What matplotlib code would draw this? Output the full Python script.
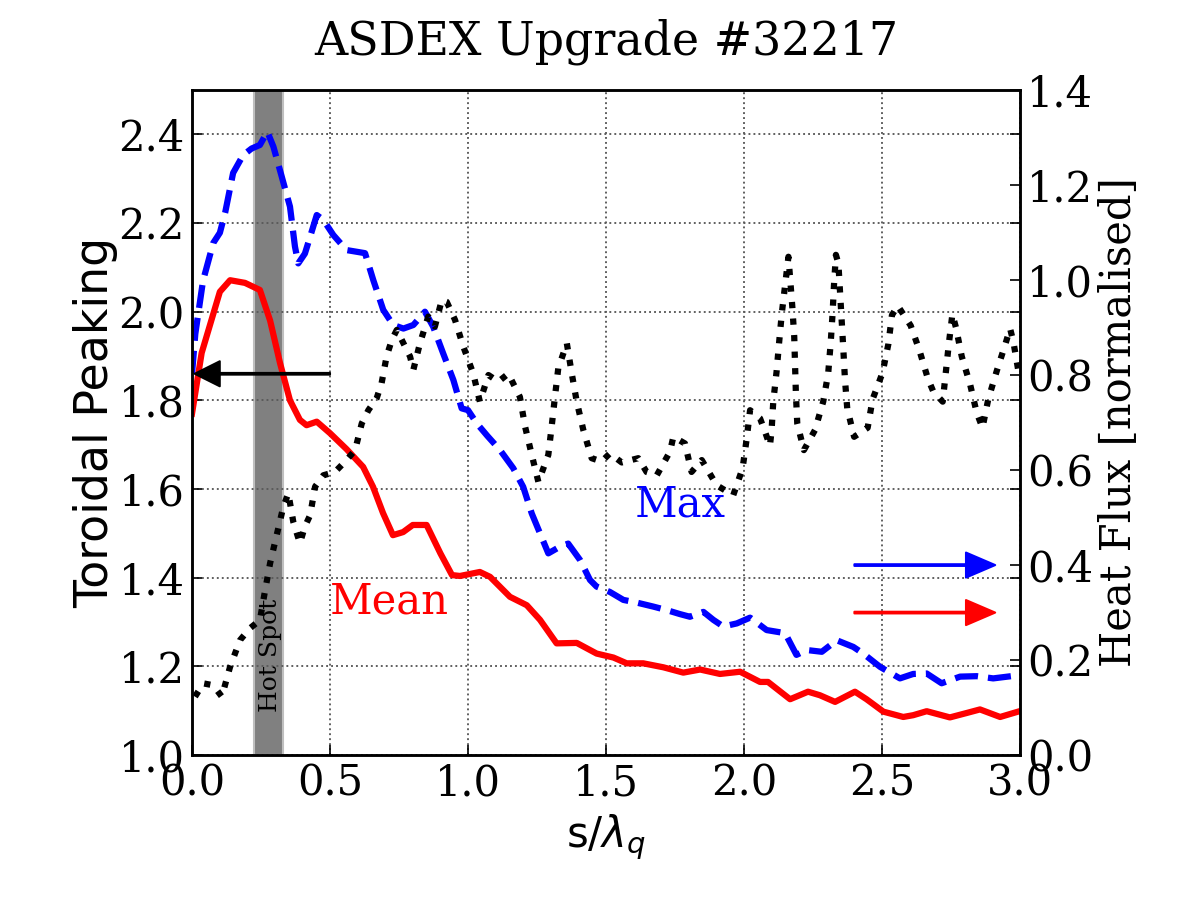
import matplotlib
matplotlib.use("Agg")
import matplotlib.pyplot as plt

# Mean toroidal peaking (left axis)
mean_s = [0.0, 0.035, 0.101, 0.138, 0.192, 0.246, 0.283, 0.319, 0.355, 0.391,
          0.415, 0.452, 0.5, 0.56, 0.62, 0.656, 0.692, 0.728, 0.765, 0.80,
          0.85, 0.90, 0.942, 0.971, 1.043, 1.08, 1.152, 1.213, 1.261, 1.321,
          1.394, 1.466, 1.527, 1.575, 1.635, 1.708, 1.78, 1.841, 1.913, 1.986,
          2.058, 2.087, 2.167, 2.232, 2.275, 2.33, 2.402, 2.444, 2.505, 2.577,
          2.613, 2.662, 2.746, 2.807, 2.855, 2.928, 2.993]
mean_peak = [1.77, 1.907, 2.045, 2.071, 2.065, 2.049, 1.98, 1.884, 1.80, 1.756,
             1.744, 1.752, 1.726, 1.69, 1.65, 1.605, 1.546, 1.496, 1.503, 1.519,
             1.519, 1.455, 1.406, 1.404, 1.413, 1.402, 1.357, 1.338, 1.305, 1.252,
             1.253, 1.229, 1.22, 1.207, 1.207, 1.198, 1.186, 1.193, 1.183, 1.188,
             1.165, 1.165, 1.126, 1.143, 1.135, 1.12, 1.143, 1.126, 1.098, 1.086,
             1.09, 1.099, 1.085, 1.095, 1.103, 1.086, 1.098]

# Max toroidal peaking (left axis)
max_s = [0.0, 0.012, 0.04, 0.077, 0.101, 0.12, 0.149, 0.185, 0.216, 0.246,
         0.273, 0.295, 0.325, 0.355, 0.373, 0.385, 0.409, 0.428, 0.452, 0.476,
         0.512, 0.56, 0.627, 0.657, 0.693, 0.729, 0.766, 0.802, 0.844, 0.874,
         0.91, 0.947, 0.977, 1.0, 1.032, 1.07, 1.116, 1.164, 1.2, 1.231,
         1.261, 1.291, 1.333, 1.363, 1.406, 1.442, 1.466, 1.514, 1.563, 1.611,
         1.671, 1.72, 1.768, 1.804, 1.853, 1.889, 1.925, 1.974, 2.022, 2.082,
         2.149, 2.19, 2.227, 2.282, 2.336, 2.396, 2.432, 2.493, 2.565, 2.613,
         2.662, 2.716, 2.783, 2.843, 2.903, 2.994]
max_peak = [1.86, 1.95, 2.07, 2.155, 2.178, 2.223, 2.313, 2.353, 2.368, 2.376,
            2.406, 2.372, 2.305, 2.237, 2.147, 2.109, 2.131, 2.169, 2.218, 2.207,
            2.173, 2.139, 2.132, 2.071, 2.004, 1.97, 1.962, 1.97, 2.0, 1.966,
            1.906, 1.846, 1.782, 1.778, 1.748, 1.72, 1.688, 1.647, 1.605, 1.545,
            1.5, 1.455, 1.47, 1.477, 1.44, 1.395, 1.38, 1.368, 1.35, 1.344,
            1.335, 1.327, 1.318, 1.312, 1.323, 1.305, 1.29, 1.297, 1.31, 1.282,
            1.275, 1.226, 1.237, 1.233, 1.259, 1.244, 1.229, 1.199, 1.173, 1.183,
            1.184, 1.162, 1.177, 1.178, 1.173, 1.18]

# Normalised heat flux profile (right axis)
flux_s = [0.011, 0.041, 0.077, 0.108, 0.138, 0.174, 0.21, 0.246, 0.264, 0.283,
          0.307, 0.331, 0.349, 0.367, 0.391, 0.409, 0.428, 0.446, 0.476, 0.518,
          0.56, 0.591, 0.615, 0.639, 0.669, 0.687, 0.705, 0.724, 0.742, 0.766,
          0.79, 0.802, 0.826, 0.856, 0.88, 0.905, 0.923, 0.953, 0.983, 1.019,
          1.043, 1.074, 1.11, 1.146, 1.188, 1.207, 1.231, 1.255, 1.291, 1.303,
          1.315, 1.327, 1.358, 1.376, 1.394, 1.418, 1.448, 1.484, 1.514, 1.557,
          1.617, 1.647, 1.684, 1.732, 1.744, 1.786, 1.81, 1.847, 1.901, 1.961,
          1.995, 2.01, 2.022, 2.058, 2.076, 2.094, 2.1, 2.106, 2.118, 2.127,
          2.137, 2.149, 2.161, 2.167, 2.175, 2.182, 2.185, 2.188, 2.193, 2.217,
          2.257, 2.287, 2.305, 2.314, 2.321, 2.326, 2.333, 2.342, 2.348, 2.354,
          2.36, 2.366, 2.374, 2.399, 2.448, 2.466, 2.502, 2.523, 2.536, 2.557,
          2.604, 2.635, 2.666, 2.686, 2.72, 2.731, 2.742, 2.755, 2.768, 2.789,
          2.819, 2.843, 2.864, 2.885, 2.916, 2.948, 2.964, 2.976, 2.994]
flux = [0.123, 0.151, 0.147, 0.123, 0.186, 0.242, 0.267, 0.284, 0.344, 0.404,
        0.463, 0.523, 0.551, 0.491, 0.446, 0.481, 0.505, 0.565, 0.589, 0.596,
        0.621, 0.642, 0.698, 0.726, 0.751, 0.783, 0.839, 0.874, 0.895, 0.867,
        0.839, 0.811, 0.867, 0.923, 0.902, 0.958, 0.954, 0.916, 0.86, 0.803,
        0.744, 0.8, 0.786, 0.803, 0.754, 0.691, 0.632, 0.575, 0.632, 0.691,
        0.754, 0.814, 0.867, 0.803, 0.744, 0.684, 0.625, 0.618, 0.635, 0.616,
        0.625, 0.596, 0.589, 0.639, 0.67, 0.656, 0.596, 0.621, 0.568, 0.547,
        0.604, 0.667, 0.726, 0.709, 0.681, 0.651, 0.684, 0.744, 0.807, 0.867,
        0.93, 0.989, 1.049, 1.004, 0.944, 0.881, 0.821, 0.761, 0.698, 0.642,
        0.684, 0.744, 0.803, 0.867, 0.93, 0.989, 1.053, 1.035, 0.975, 0.912,
        0.853, 0.789, 0.73, 0.67, 0.689, 0.749, 0.805, 0.865, 0.926, 0.946,
        0.904, 0.853, 0.793, 0.765, 0.744, 0.805, 0.865, 0.928, 0.9, 0.839,
        0.781, 0.721, 0.689, 0.749, 0.809, 0.867, 0.898, 0.87, 0.809]

hot_spot = (0.225, 0.33)

plt.rcParams['font.family'] = 'serif'
plt.rcParams['font.serif'] = ['DejaVu Serif']
plt.rcParams['font.size'] = 20
plt.rcParams['xtick.direction'] = 'in'
plt.rcParams['ytick.direction'] = 'in'
plt.rcParams['xtick.major.size'] = 5
plt.rcParams['ytick.major.size'] = 5
plt.rcParams['axes.linewidth'] = 1.2

fig, ax1 = plt.subplots(figsize=(8, 6), dpi=150)
fig.subplots_adjust(left=0.16, right=0.85, bottom=0.161, top=0.9)

ax1.axvspan(hot_spot[0], hot_spot[1], facecolor='0.5', edgecolor='0.75', lw=1)
ax1.text(0.283, 1.225, 'Hot Spot', rotation=90, fontsize=12,
         ha='center', va='center')

ax1.plot(mean_s, mean_peak, color='red', lw=3)
ax1.plot(max_s, max_peak, color='blue', lw=3, linestyle='--')

ax1.text(0.5, 1.32, 'Mean', color='red', fontsize=20, va='baseline')
ax1.text(1.605, 1.537, 'Max', color='blue', fontsize=20, va='baseline')

ax1.annotate('', xy=(0.01, 1.86), xytext=(0.5, 1.86),
             arrowprops=dict(facecolor='black', edgecolor='black',
                             width=0.8, headwidth=12, headlength=12))

ax1.set_xlim(0, 3)
ax1.set_ylim(1.0, 2.5)
ax1.set_xticks([0.0, 0.5, 1.0, 1.5, 2.0, 2.5, 3.0])
ax1.set_yticks([1.0, 1.2, 1.4, 1.6, 1.8, 2.0, 2.2, 2.4])
ax1.grid(True, color='0.35', linestyle=':', linewidth=0.9)
ax1.set_xlabel(r's/$\lambda_q$', family='sans-serif', fontsize=20)
ax1.set_ylabel('Toroidal Peaking', family='sans-serif', fontsize=22,
               labelpad=0)
ax1.set_title('ASDEX Upgrade #32217', fontsize=22, pad=17)

ax2 = ax1.twinx()
ax2.plot(flux_s, flux, color='black', lw=3, linestyle=':')
ax2.annotate('', xy=(2.91, 0.4), xytext=(2.4, 0.4),
             arrowprops=dict(facecolor='blue', edgecolor='blue',
                             width=0.8, headwidth=12, headlength=14))
ax2.annotate('', xy=(2.91, 0.3), xytext=(2.4, 0.3),
             arrowprops=dict(facecolor='red', edgecolor='red',
                             width=0.8, headwidth=12, headlength=14))
ax2.set_ylim(0, 1.4)
ax2.set_yticks([0.0, 0.2, 0.4, 0.6, 0.8, 1.0, 1.2, 1.4])
ax2.set_ylabel('Heat Flux [normalised]', fontsize=20, labelpad=2)
ax1.yaxis.set_ticks_position('both')
ax1.set_xlim(0, 3)

fig.savefig('out.png', dpi=150)
